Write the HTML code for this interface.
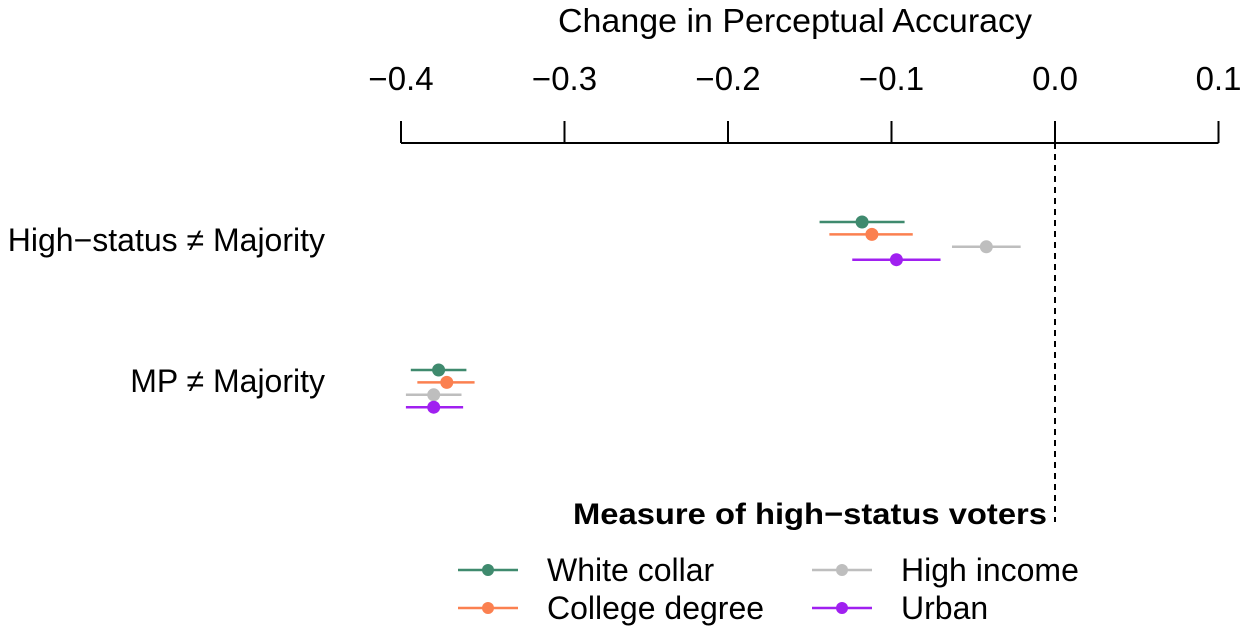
<!DOCTYPE html>
<html><head><meta charset="utf-8"><style>
body{margin:0;background:#fff}
svg text{font-family:"Liberation Sans",sans-serif;fill:#000}
</style></head><body>
<svg width="1244" height="636" viewBox="0 0 1244 636">
<g id="axis"></g>
<g id="marks"></g>
<g id="legend"></g>
</svg>
<script>
const ticks=[-0.4,-0.3,-0.2,-0.1,0.0,0.1];
const tickLabels=["\u22120.4","\u22120.3","\u22120.2","\u22120.1","0.0","0.1"];
const rows=["High\u2212status \u2260 Majority","MP \u2260 Majority"];
const series=["White collar","College degree","High income","Urban"];
const colors=["#3f8a6e","#fb8050","#bebebe","#a020f0"];
const est=[[-0.118,-0.112,-0.042,-0.097],[-0.377,-0.372,-0.380,-0.380]];
const lo=[[-0.144,-0.138,-0.063,-0.124],[-0.394,-0.390,-0.397,-0.397]];
const hi=[[-0.092,-0.087,-0.021,-0.070],[-0.360,-0.355,-0.363,-0.362]];
const NS="http://www.w3.org/2000/svg";
const x=v=>1055+v*1635;
const rowY=[222,370], step=12.4, labelY=[251,392];
function mk(t,a,p){const e=document.createElementNS(NS,t);for(const k in a)e.setAttribute(k,a[k]);p.appendChild(e);return e;}
const ax=document.getElementById('axis'),mg=document.getElementById('marks'),lg=document.getElementById('legend');
let t=mk('text',{x:795,y:32,'text-anchor':'middle','font-size':33,textLength:474,lengthAdjust:'spacingAndGlyphs'},ax);t.textContent="Change in Perceptual Accuracy";


let l=mk('line',{x1:x(ticks[0]),x2:x(ticks[ticks.length-1]),y1:143,y2:143,stroke:'#000','stroke-width':2},ax);


ticks.forEach((v,i)=>{
 let k=mk('line',{x1:x(v),x2:x(v),y1:121,y2:143,stroke:'#000','stroke-width':2},ax);
 
 
 let tl=mk('text',{x:x(v),y:90,'text-anchor':'middle','font-size':33},ax);tl.textContent=tickLabels[i];
 
 
});
let d=mk('line',{x1:x(0),x2:x(0),y1:143,y2:522,stroke:'#000','stroke-width':2,'stroke-dasharray':'6,5'},mg);


rows.forEach((r,ri)=>{
 let rl=mk('text',{x:325,y:labelY[ri],'text-anchor':'end','font-size':32},ax);rl.textContent=r;
 
 
 series.forEach((s,si)=>{
  const y=rowY[ri]+si*step+(ri==0&&si==3?0.5:0);
  let e=mk('line',{x1:x(lo[ri][si]),x2:x(hi[ri][si]),y1:y,y2:y,stroke:colors[si],'stroke-width':2.5},mg);
  
  
  let c=mk('circle',{cx:x(est[ri][si]),cy:y,r:6.5,fill:colors[si]},mg);
  
  
 });
});
let lt=mk('text',{x:810,y:524,'text-anchor':'middle','font-size':30,'font-weight':'bold',textLength:474,lengthAdjust:'spacingAndGlyphs'},lg);lt.textContent="Measure of high\u2212status voters";


const lx=[458,812],ly=[570,608];
series.forEach((s,i)=>{
 const cx=lx[Math.floor(i/2)],cy=ly[i%2];
 const g=mk('g',{},lg);
 
 
 mk('line',{x1:cx,x2:cx+60,y1:cy,y2:cy,stroke:colors[i],'stroke-width':2.5},g);
 mk('circle',{cx:cx+30,cy:cy,r:6,fill:colors[i]},g);
 const tx=mk('text',{x:cx+89,y:cy+11,'font-size':32},g);tx.textContent=s;
});
</script>
</body></html>
